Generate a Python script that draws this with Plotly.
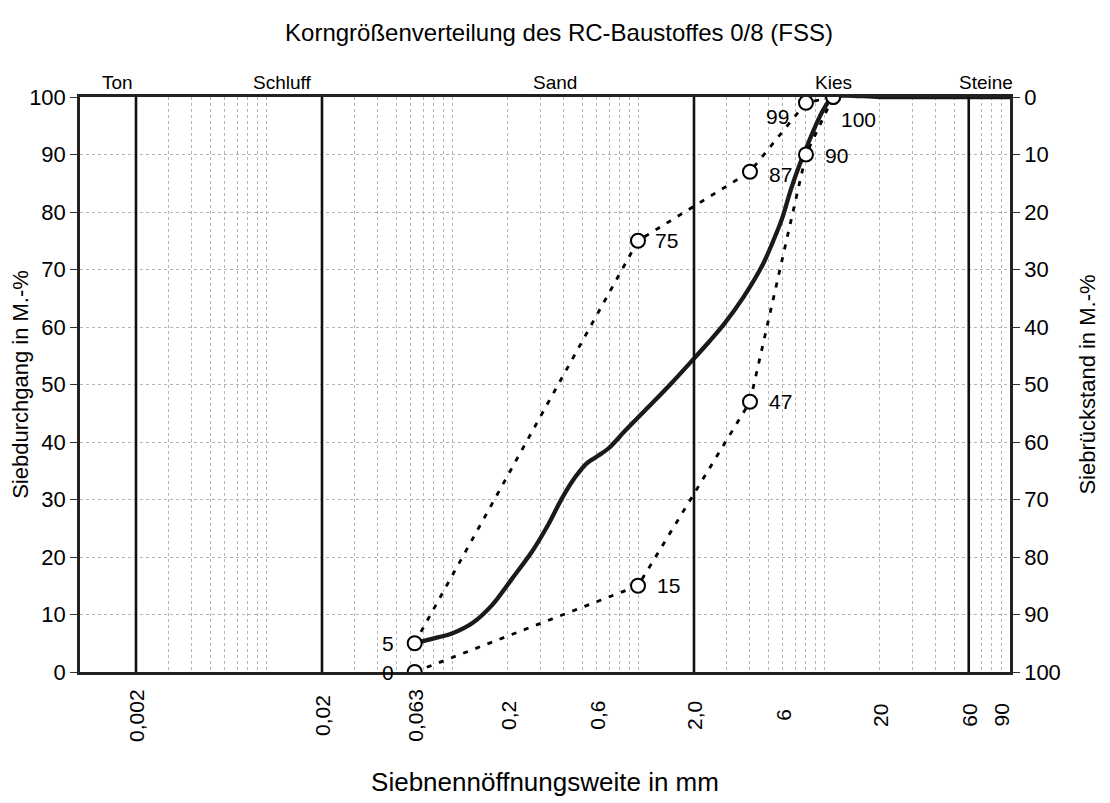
import plotly.graph_objects as go
import numpy as np

# ---------------- data ----------------
# measured grading curve (sieve size in mm, passing in M.-%)
curve_d = [0.063, 0.079, 0.10, 0.13, 0.166, 0.21, 0.27, 0.33, 0.39, 0.46, 0.53,
           0.61, 0.70, 0.85, 1.13, 1.5, 1.96, 2.45, 2.9, 3.69, 4.71, 5.53, 6.0,
           6.62, 7.33, 7.95, 8.98, 9.93, 11.2, 20, 100]
curve_p = [5, 5.8, 6.7, 8.6, 11.8, 16.2, 21.0, 25.7, 30.2, 33.9, 36.3,
           37.6, 39.0, 41.9, 46.0, 50.1, 54.2, 57.7, 60.5, 65.2, 71.0, 76.2, 79.2,
           83.8, 87.9, 90.8, 94.9, 97.8, 100, 100, 100]

# grading envelope
limit_d = [0.063, 1.0, 4.0, 8.0, 11.2]
upper_p = [5, 75, 87, 99, 100]
lower_p = [0, 15, 47, 90, 100]

# fraction boundaries and names
boundaries = [0.002, 0.02, 2.0, 60]
fraction_names = ["Ton", "Schluff", "Sand", "Kies", "Steine"]
fraction_pos = [0.0016, 0.0122, 0.357, 11.2, 74.5]

# tick labels
xtick_vals = [0.002, 0.02, 0.063, 0.2, 0.6, 2.0, 6, 20, 60, 90]
xtick_text = ["0,002", "0,02", "0,063", "0,2", "0,6", "2,0", "6", "20", "60", "90"]
ytick_vals = list(range(0, 101, 10))

# point labels
upper_labels = ["5", "75", "87", "99", "100"]
lower_labels = ["0", "15", "47", "90", ""]

FONT = "Liberation Sans, Arial, sans-serif"

fig = go.Figure()

# minor grid values for a log axis
minor_vals = [k * 10.0 ** e for e in range(-3, 2) for k in range(1, 10)
              if 0.001 <= k * 10.0 ** e <= 100]

# envelope lines
dash = "5px,8px"
for vals in (upper_p, lower_p):
    fig.add_trace(go.Scatter(x=limit_d, y=vals, mode="lines",
                             line=dict(color="black", width=2.8, dash=dash),
                             showlegend=False, hoverinfo="skip"))

# grading curve
fig.add_trace(go.Scatter(x=curve_d, y=curve_p, mode="lines",
                         line=dict(color="#1a1a1a", width=4.3, shape="spline", smoothing=0.8),
                         showlegend=False, hoverinfo="skip"))

# envelope points
fig.add_trace(go.Scatter(x=limit_d + limit_d, y=upper_p + lower_p, mode="markers",
                         marker=dict(symbol="circle", size=14, color="white",
                                     line=dict(color="black", width=2)),
                         showlegend=False, hoverinfo="skip"))

# point label offsets (xshift, yshift, anchor)
upper_off = [(-19, 0, "right"), (15, 0, "left"), (17, -3, "left"), (-15, -14, "right"), (6, -22, "left")]
lower_off = [(-19, 0, "right"), (17, 0, "left"), (17, 0, "left"), (17, -1, "left"), None]

LABEL_FONT = dict(size=21, family=FONT, color="black")
for d, p, t, off in zip(limit_d + limit_d, upper_p + lower_p,
                        upper_labels + lower_labels, upper_off + lower_off):
    if off is None or not t:
        continue
    dx, dy, anchor = off
    fig.add_annotation(x=np.log10(d), y=p, text=t, showarrow=False,
                       xanchor=anchor, xshift=dx, yshift=dy, font=LABEL_FONT)

# boundary lines
for b in boundaries:
    fig.add_shape(type="line", x0=b, x1=b, y0=0, y1=100, xref="x", yref="y",
                  line=dict(color="#111", width=2.6))

# fraction names
for name, pos in zip(fraction_names, fraction_pos):
    fig.add_annotation(x=np.log10(pos), y=1.0, yref="paper", text=name, showarrow=False,
                       yanchor="bottom", yshift=2, font=dict(size=19, family=FONT, color="black"))

# x tick labels (rotated, centred below the axis)
for v, t in zip(xtick_vals, xtick_text):
    fig.add_annotation(x=np.log10(v), y=0, yref="paper", text=t, showarrow=False,
                       textangle=-90, xanchor="center", yanchor="middle", yshift=-43,
                       font=dict(size=21, family=FONT, color="black"))

# dummy trace for right axis
fig.add_trace(go.Scatter(x=[0.001], y=[0], yaxis="y2", mode="markers",
                         marker=dict(opacity=0), showlegend=False, hoverinfo="skip"))

fig.update_layout(
    width=1102, height=795,
    margin=dict(l=72, r=100, t=89, b=131),
    paper_bgcolor="white", plot_bgcolor="white",
    font=dict(family=FONT, color="black"),
    title=dict(text="Korngrößenverteilung des RC-Baustoffes 0/8 (FSS)",
               x=0.5, xanchor="center", y=1 - 25 / 795, yanchor="middle",
               font=dict(size=24, family=FONT, color="black")),
    xaxis=dict(type="log", range=[-3, 2], tickvals=xtick_vals, showticklabels=False,
               showgrid=False, automargin=False,
               showline=True, linecolor="#222", linewidth=2.5, mirror=True,
               ticks="", zeroline=False,
               minor=dict(tickvals=minor_vals, showgrid=True, gridcolor="#b5b5b5",
                          griddash="dot", gridwidth=1, ticks=""),
               title=dict(text="Siebnennöffnungsweite in mm", font=dict(size=26), standoff=100)),
    yaxis=dict(range=[0, 100], tickvals=ytick_vals, tickfont=dict(size=22),
               showgrid=True, gridcolor="#b5b5b5", griddash="dot", gridwidth=1,
               showline=True, linecolor="#222", linewidth=2.5, automargin=False,
               ticks="outside", ticklen=7, tickcolor="#333", zeroline=False,
               title=dict(text="Siebdurchgang in M.-%", font=dict(size=22), standoff=4)),
    yaxis2=dict(range=[100, 0], tickvals=ytick_vals, tickfont=dict(size=22),
                overlaying="y", side="right", showgrid=False, automargin=False,
                showline=True, linecolor="#222", linewidth=2.5,
                ticks="outside", ticklen=7, tickcolor="#333", zeroline=False,
                title=dict(text="Siebrückstand in M.-%", font=dict(size=22), standoff=20)),
)

fig.write_html("out.html")
